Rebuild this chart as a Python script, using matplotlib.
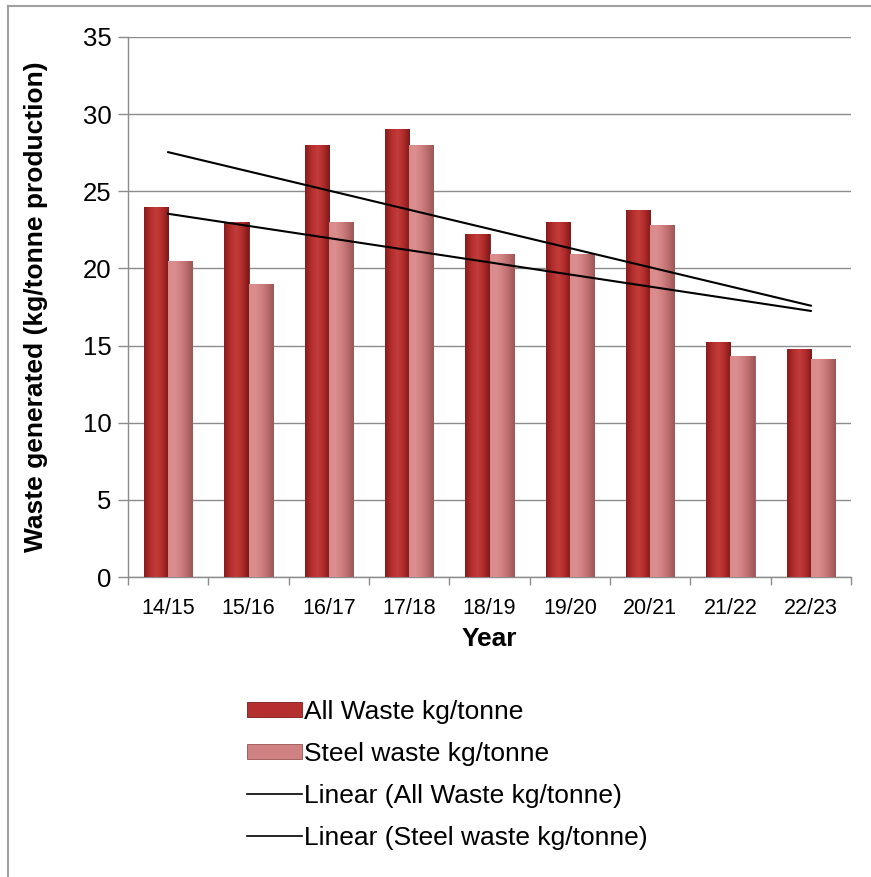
import numpy as np
import matplotlib
matplotlib.use("Agg")
import matplotlib.pyplot as plt
from matplotlib.colors import LinearSegmentedColormap
from matplotlib.lines import Line2D

plt.rcParams['font.family'] = ['Liberation Sans', 'DejaVu Sans']

# data
years = ['14/15', '15/16', '16/17', '17/18', '18/19', '19/20', '20/21', '21/22', '22/23']
all_waste = [24.0, 23.0, 28.0, 29.0, 22.2, 23.0, 23.8, 15.2, 14.8]
steel_waste = [20.5, 19.0, 23.0, 28.0, 20.9, 20.9, 22.8, 14.3, 14.1]

fig = plt.figure(figsize=(8.71, 8.77), dpi=100)
ax = fig.add_axes([0.147, 0.342, 0.830, 0.616])

x = np.arange(len(years))
w = 0.3

# colour gradients to mimic the bevelled excel bars
cm_all = LinearSegmentedColormap.from_list('allw', ['#8a1c1c', '#b22e2c', '#c23c3a', '#b02c2b', '#7e1a1a'])
cm_steel = LinearSegmentedColormap.from_list('steel', ['#d98a8a', '#dc8d8d', '#d08080', '#bb6c6c', '#9c5656'])
grad = np.linspace(0, 1, 64).reshape(1, -1)

bars1 = ax.bar(x - w / 2, all_waste, w, color='#b52f2e', edgecolor='#7a1c1c', linewidth=0.6, zorder=3,
               label='All Waste kg/tonne')
bars2 = ax.bar(x + w / 2, steel_waste, w, color='#d08282', edgecolor='#9a5252', linewidth=0.6, zorder=3,
               label='Steel waste kg/tonne')

for bars, cm in [(bars1, cm_all), (bars2, cm_steel)]:
    for b in bars:
        x0, y0 = b.get_x(), b.get_y()
        im = ax.imshow(grad, cmap=cm, aspect='auto', zorder=3.5,
                       extent=[x0, x0 + b.get_width(), y0, y0 + b.get_height()])
        im.set_clip_path(b)

# excel style linear trendlines
p1 = np.polyfit(x, all_waste, 1)
p2 = np.polyfit(x, steel_waste, 1)
ax.plot(x, np.polyval(p1, x), color='black', lw=1.5, zorder=5)
ax.plot(x, np.polyval(p2, x), color='black', lw=1.5, zorder=5)

ax.set_xlim(-0.5, len(years) - 0.5)
ax.set_ylim(0, 35)
ax.set_yticks(np.arange(0, 36, 5))
ax.set_xticks(x)
ax.set_xticklabels(years, fontsize=15.5)
ax.set_xticks(np.arange(-0.5, len(years), 1), minor=True)
ax.tick_params(axis='x', which='major', length=0, pad=15)
ax.tick_params(axis='x', which='minor', length=6, color='#8c8c8c', width=1)
ax.tick_params(axis='y', labelsize=18.5, length=7, color='#8c8c8c', width=1, pad=5)
ax.yaxis.grid(True, color='#8c8c8c', lw=1)
ax.set_axisbelow(True)

for s in ['top', 'right']:
    ax.spines[s].set_visible(False)
for s in ['left', 'bottom']:
    ax.spines[s].set_color('#8c8c8c')
    ax.spines[s].set_linewidth(1)

ax.set_xlabel('Year', fontsize=19, fontweight='bold', labelpad=6)
ax.set_ylabel('Waste generated (kg/tonne production)', fontsize=19, fontweight='bold', labelpad=25)

handles = [bars1, bars2,
           Line2D([], [], color='black', lw=1.2),
           Line2D([], [], color='black', lw=1.2)]
labels = ['All Waste kg/tonne', 'Steel waste kg/tonne',
          'Linear (All Waste kg/tonne)', 'Linear (Steel waste kg/tonne)']
fig.legend(handles, labels, loc='upper left', bbox_to_anchor=(0.269, 0.217), frameon=False,
           fontsize=19, handlelength=2.05, handleheight=0.5, handletextpad=0.1, labelspacing=0.68,
           borderpad=0)

# partial border of the original screenshot
fig.add_artist(Line2D([8 / 871, 8 / 871], [0, 1 - 6 / 877], color='#a0a0a0', lw=1.5))
fig.add_artist(Line2D([8 / 871, 1], [1 - 6 / 877, 1 - 6 / 877], color='#a0a0a0', lw=1.5))

fig.savefig('out.png', dpi=100)
